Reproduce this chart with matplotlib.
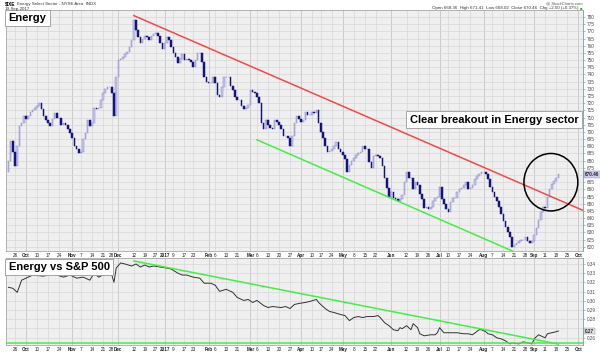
import matplotlib
matplotlib.use('Agg')
import matplotlib.pyplot as plt
from matplotlib.patches import Ellipse
from matplotlib import transforms
import numpy as np
import pandas as pd

plt.rcParams['font.family'] = ['Liberation Sans', 'DejaVu Sans']

# market holidays skipped by the trading-day axis
holidays = ['2016-11-24', '2016-12-26', '2017-01-02', '2017-01-16', '2017-02-20',
            '2017-04-14', '2017-05-29', '2017-07-04', '2017-09-04']

# daily closes of $IXE, 21-Sep-2016 .. 19-Sep-2017
first_open = 672
closes = [680, 694, 686,
          676, 690, 704, 706, 711, 709, 711, 714, 715, 717,
          718, 720, 716, 711, 708, 706, 704, 709, 713, 710,
          710, 705, 706, 705, 702, 699, 696, 690, 688, 685,
          686, 695, 699, 708, 704, 706, 717, 716, 717, 722,
          727, 730, 731, 731, 727, 711, 738, 750, 751, 752,
          754, 756, 759, 764, 778, 771, 766, 762, 765, 767,
          766, 764, 767, 768, 769, 767, 762, 758, 762, 766,
          764, 759, 755, 752, 748, 751, 754, 750, 751, 750,
          749, 745, 750, 755, 755, 749, 738, 735, 734, 734,
          738, 734, 726, 724, 731, 738, 738, 738, 732, 729,
          724, 722, 722, 718, 716, 717, 719, 729, 728, 727,
          724, 720, 706, 702, 708, 705, 703, 702, 708, 707,
          705, 702, 697, 697, 696, 690, 697, 706, 711, 709,
          707, 708, 714, 712, 712, 714, 713, 715, 706, 700,
          696, 690, 686, 687, 688, 690, 693, 688, 686, 684,
          681, 672, 677, 680, 682, 684, 685, 686, 690, 688,
          688, 679, 675, 683, 684, 683, 682, 676, 668, 661,
          655, 658, 654, 653, 652, 653, 656, 665, 672, 668,
          668, 660, 665, 663, 657, 653, 647, 648, 646, 648,
          652, 654, 655, 662, 653, 650, 646, 644, 651, 654,
          654, 658, 660, 661, 663, 665, 660, 661, 663, 667,
          669, 671, 672, 672, 671, 667, 662, 658, 655, 652,
          648, 643, 638, 634, 630, 627, 620, 621, 623, 624,
          625, 625, 627, 624, 623, 624, 628, 633, 639, 644,
          648, 647, 655, 660, 664, 666, 668, 670.46]

# Energy vs S&P 500 ratio
ratio_dates = ['2016-09-21', '2016-09-23', '2016-09-27', '2016-09-29', '2016-10-04', '2016-10-06',
               '2016-10-13', '2016-10-18', '2016-10-21', '2016-10-26', '2016-10-31', '2016-11-03',
               '2016-11-08', '2016-11-11', '2016-11-15', '2016-11-17', '2016-11-23', '2016-11-28',
               '2016-11-29', '2016-11-30', '2016-12-02', '2016-12-06', '2016-12-09', '2016-12-13',
               '2016-12-15', '2016-12-19', '2016-12-21', '2016-12-23', '2016-12-29', '2017-01-04',
               '2017-01-06', '2017-01-11', '2017-01-13', '2017-01-18', '2017-01-23', '2017-01-26',
               '2017-01-30', '2017-02-02', '2017-02-06', '2017-02-08', '2017-02-13', '2017-02-16',
               '2017-02-21', '2017-02-24', '2017-02-28', '2017-03-02', '2017-03-06', '2017-03-09',
               '2017-03-13', '2017-03-15', '2017-03-21', '2017-03-23', '2017-03-27', '2017-03-29',
               '2017-03-31', '2017-04-05', '2017-04-07', '2017-04-12', '2017-04-13', '2017-04-19',
               '2017-04-21', '2017-04-25', '2017-04-28', '2017-05-02', '2017-05-04', '2017-05-08',
               '2017-05-10', '2017-05-12', '2017-05-16', '2017-05-19', '2017-05-23', '2017-05-24',
               '2017-05-26', '2017-05-31', '2017-06-02', '2017-06-06', '2017-06-07', '2017-06-08',
               '2017-06-12', '2017-06-14', '2017-06-15', '2017-06-19', '2017-06-20', '2017-06-22',
               '2017-06-27', '2017-06-29', '2017-06-30', '2017-07-03', '2017-07-06', '2017-07-10',
               '2017-07-12', '2017-07-14', '2017-07-19', '2017-07-21', '2017-07-25', '2017-07-28',
               '2017-07-31', '2017-08-02', '2017-08-03', '2017-08-07', '2017-08-09', '2017-08-11',
               '2017-08-15', '2017-08-17', '2017-08-18', '2017-08-23', '2017-08-25', '2017-08-29',
               '2017-08-31', '2017-09-01', '2017-09-06', '2017-09-08', '2017-09-11', '2017-09-12',
               '2017-09-14', '2017-09-18', '2017-09-19']
ratio_values = [0.3147, 0.3136, 0.3092, 0.3224, 0.3257, 0.3279,
                0.3268, 0.3290, 0.3280, 0.3257, 0.3280, 0.3246,
                0.3257, 0.3224, 0.3301, 0.3257, 0.3301, 0.3280,
                0.3202, 0.3356, 0.3411, 0.3400, 0.3378, 0.3400,
                0.3367, 0.3389, 0.3367, 0.3378, 0.3367, 0.3356,
                0.3345, 0.3301, 0.3280, 0.3280, 0.3257, 0.3246,
                0.3191, 0.3191, 0.3169, 0.3103, 0.3125, 0.3092,
                0.3037, 0.3004, 0.3015, 0.2982, 0.3004, 0.2949,
                0.2927, 0.2938, 0.2927, 0.2938, 0.2916, 0.2960,
                0.2971, 0.2982, 0.2993, 0.3015, 0.2982, 0.2916,
                0.2884, 0.2873, 0.2851, 0.2840, 0.2785, 0.2818,
                0.2829, 0.2818, 0.2829, 0.2829, 0.2840, 0.2818,
                0.2763, 0.2730, 0.2686, 0.2675, 0.2708, 0.2697,
                0.2730, 0.2686, 0.2752, 0.2708, 0.2642, 0.2620,
                0.2631, 0.2631, 0.2653, 0.2708, 0.2653, 0.2653,
                0.2653, 0.2653, 0.2642, 0.2642, 0.2631, 0.2686,
                0.2686, 0.2664, 0.2642, 0.2631, 0.2598, 0.2587,
                0.2565, 0.2532, 0.2543, 0.2532, 0.2554, 0.2543,
                0.2532, 0.2587, 0.2631, 0.2609, 0.2598, 0.2642,
                0.2653, 0.2664, 0.2672]

price_ticks = list(range(620, 781, 5))
ratio_ticks = [0.26, 0.27, 0.28, 0.29, 0.30, 0.31, 0.32, 0.33, 0.34]

tick_dates = ['2016-09-26', '2016-10-03', '2016-10-10', '2016-10-17', '2016-10-24', '2016-11-01',
              '2016-11-07', '2016-11-14', '2016-11-21', '2016-11-28', '2016-12-01', '2016-12-12',
              '2016-12-19', '2016-12-27', '2017-01-03', '2017-01-09', '2017-01-17', '2017-01-23',
              '2017-02-01', '2017-02-06', '2017-02-13', '2017-02-21', '2017-03-01', '2017-03-06',
              '2017-03-13', '2017-03-20', '2017-03-27', '2017-04-03', '2017-04-10', '2017-04-17',
              '2017-04-24', '2017-05-01', '2017-05-08', '2017-05-15', '2017-05-22', '2017-06-01',
              '2017-06-12', '2017-06-19', '2017-06-26', '2017-07-03', '2017-07-10', '2017-07-17',
              '2017-07-24', '2017-08-01', '2017-08-07', '2017-08-14', '2017-08-21', '2017-08-28',
              '2017-09-01', '2017-09-11', '2017-09-18', '2017-09-25', '2017-10-02']
tick_labels = ['26', 'Oct', '10', '17', '24', 'Nov', '7', '14', '21', '28', 'Dec', '12',
               '19', '27', '2017', '9', '17', '23', 'Feb', '6', '13', '21', 'Mar', '6',
               '13', '20', '27', 'Apr', '10', '17', '24', 'May', '8', '15', '22', 'Jun',
               '12', '19', '26', 'Jul', '10', '17', '24', 'Aug', '7', '14', '21', '28',
               'Sep', '11', '18', '25', 'Oct']
month_labels = ['Oct', 'Nov', 'Dec', '2017', 'Feb', 'Mar', 'Apr', 'May', 'Jun', 'Jul', 'Aug', 'Sep']

# hand-drawn trendlines
red_line_dates = ['2016-12-12', '2017-10-04']
red_line_values = [781, 645.5]
green_line_dates = ['2017-03-06', '2017-08-21']
green_line_values = [694.5, 616.5]
ratio_trend_dates = ['2016-12-12', '2017-09-19']
ratio_trend_values = [0.3433, 0.2530]
ratio_floor = 0.2541
circle_date = '2017-09-13'
circle_price = 665

# trading-day axis
days = pd.bdate_range('2016-09-21', '2017-10-10')
days = days[~days.isin(pd.to_datetime(holidays))]
pos = {d: i for i, d in enumerate(days)}


def xp(d):
    return pos[pd.Timestamp(d)]


fig = plt.figure(figsize=(6, 3.52), dpi=100)
ax1 = fig.add_axes([6 / 600, 1 - 251 / 352, 577 / 600, 241 / 352])
ax2 = fig.add_axes([6 / 600, 1 - 345 / 352, 577 / 600, 87 / 352])

xmin, xmax = -1.1, xp('2017-10-04') + 0.2
tick_pos = [xp(d) for d in tick_dates]

for ax in (ax1, ax2):
    ax.set_facecolor('#efefef')
    ax.set_xlim(xmin, xmax)
    ax.set_axisbelow(True)
    for p, lab in zip(tick_pos, tick_labels):
        ax.axvline(p, color='#bcbcbc' if lab in month_labels else '#d8d8d8', lw=0.5, zorder=0)
    ax.grid(axis='y', color='#d8d8d8', lw=0.5)
    ax.set_xticks(tick_pos, tick_labels)
    ax.tick_params(axis='x', length=0, pad=1.2, labelsize=3.3, labelcolor='#222222')
    ax.yaxis.tick_right()
    ax.tick_params(axis='y', length=1.5, width=0.4, pad=1.5, labelsize=3.3,
                   labelcolor='#444444', color='#888888')
    for t in ax.get_xticklabels():
        if t.get_text() in month_labels:
            t.set_fontweight('bold')
    for s in ax.spines.values():
        s.set_color('#a8a8a8')
        s.set_linewidth(0.6)
    ax.spines['right'].set_color('#7a9a9a')

# candles
x = np.arange(len(closes))
c = np.array(closes, dtype=float)
o = np.array([first_open] + closes[:-1], dtype=float)
up = c >= o
ax1.bar(x[up], c[up] - o[up], bottom=o[up], width=0.75,
        color='#cacaf0', edgecolor='#8484c8', linewidth=0.35, zorder=3)
ax1.bar(x[~up], c[~up] - o[~up], bottom=o[~up], width=0.75,
        color='#14147e', edgecolor='#14147e', linewidth=0.35, zorder=3)

ax1.plot([xp(d) for d in red_line_dates], red_line_values, color='#f04a4a', lw=1.1, zorder=4)
ax1.plot([xp(d) for d in green_line_dates], green_line_values, color='#44ee44', lw=1.1, zorder=4)
ax1.add_patch(Ellipse((xp(circle_date) + 0.6, circle_price), 24.5, 40,
                      fill=False, ec='black', lw=1.1, zorder=5))

# the last-value box sits where the nearest tick label would be
last_tick = int(round(closes[-1] / 5.0) * 5)
ax1.set_ylim(617.1, 784.9)
ax1.set_yticks(price_ticks, ['' if v == last_tick else str(v) for v in price_ticks])

trans1 = transforms.blended_transform_factory(ax1.transAxes, ax1.transData)
ax1.text(1.004, closes[-1], f'{closes[-1]:.2f}', transform=trans1, fontsize=3.3,
         fontweight='bold', va='center', ha='left', color='#222222',
         bbox=dict(boxstyle='square,pad=0.2', fc='#cacaf0', ec='#8484c8', lw=0.3))

ax1.text(0.0045, 0.988, 'Energy', transform=ax1.transAxes, fontsize=8, fontweight='bold',
         va='top', ha='left', zorder=6,
         bbox=dict(boxstyle='square,pad=0.3', fc='white', ec='#999999', lw=0.6))
ax1.text(0.8458, 0.5456, 'Clear breakout in Energy sector', transform=ax1.transAxes,
         fontsize=8, fontweight='bold', va='center', ha='center', zorder=6,
         bbox=dict(boxstyle='square,pad=0.3', fc='white', ec='#999999', lw=0.6))

# ratio panel
ax2.plot([xp(d) for d in ratio_dates], ratio_values, color='#333333', lw=0.7, zorder=3)
ax2.plot([xp(d) for d in ratio_trend_dates], ratio_trend_values, color='#44ee44', lw=1.1, zorder=4)
ax2.axhline(ratio_floor, color='#44ee44', lw=1.1, zorder=4)
last_ratio_tick = round(ratio_values[-1], 2)
ax2.set_ylim(0.252, 0.3465)
ax2.set_yticks(ratio_ticks, ['' if abs(v - last_ratio_tick) < 1e-9 else f'{v:.2f}'
                             for v in ratio_ticks])

trans2 = transforms.blended_transform_factory(ax2.transAxes, ax2.transData)
ax2.text(1.004, ratio_values[-1], f'{ratio_values[-1]:.2f}', transform=trans2, fontsize=3.3,
         fontweight='bold', va='center', ha='left', color='#222222',
         bbox=dict(boxstyle='square,pad=0.2', fc='#e4e4e4', ec='#888888', lw=0.3))
ax2.text(0.0045, 0.955, 'Energy vs S&P 500', transform=ax2.transAxes, fontsize=8,
         fontweight='bold', va='top', ha='left', zorder=6,
         bbox=dict(boxstyle='square,pad=0.3', fc='white', ec='#999999', lw=0.6))

# header
fig.text(5 / 600, 1 - 4 / 352, '$IXE', fontsize=3.4, fontweight='bold', va='center', ha='left')
fig.text(17 / 600, 1 - 4 / 352, 'Energy Select Sector - NYSE Arca  INDX', fontsize=3.2,
         va='center', ha='left', color='#333333')
fig.text(5 / 600, 1 - 9 / 352, '19-Sep-2017', fontsize=3.2, va='center', ha='left', color='#333333')
fig.text(583 / 600, 1 - 3 / 352, '@ StockCharts.com', fontsize=3.0, va='center', ha='right',
         color='#555555')
fig.text(579 / 600, 1 - 8.5 / 352,
         'Open 668.36  High 671.41  Low 668.02  Close 670.46  Chg +2.50 (+0.37%)',
         fontsize=3.2, va='center', ha='right', color='#333333')
fig.text(580 / 600, 1 - 8.5 / 352, '\u25a0', fontsize=3.0, va='center', ha='left', color='#22bb22')

fig.savefig('out.png', dpi=100)
